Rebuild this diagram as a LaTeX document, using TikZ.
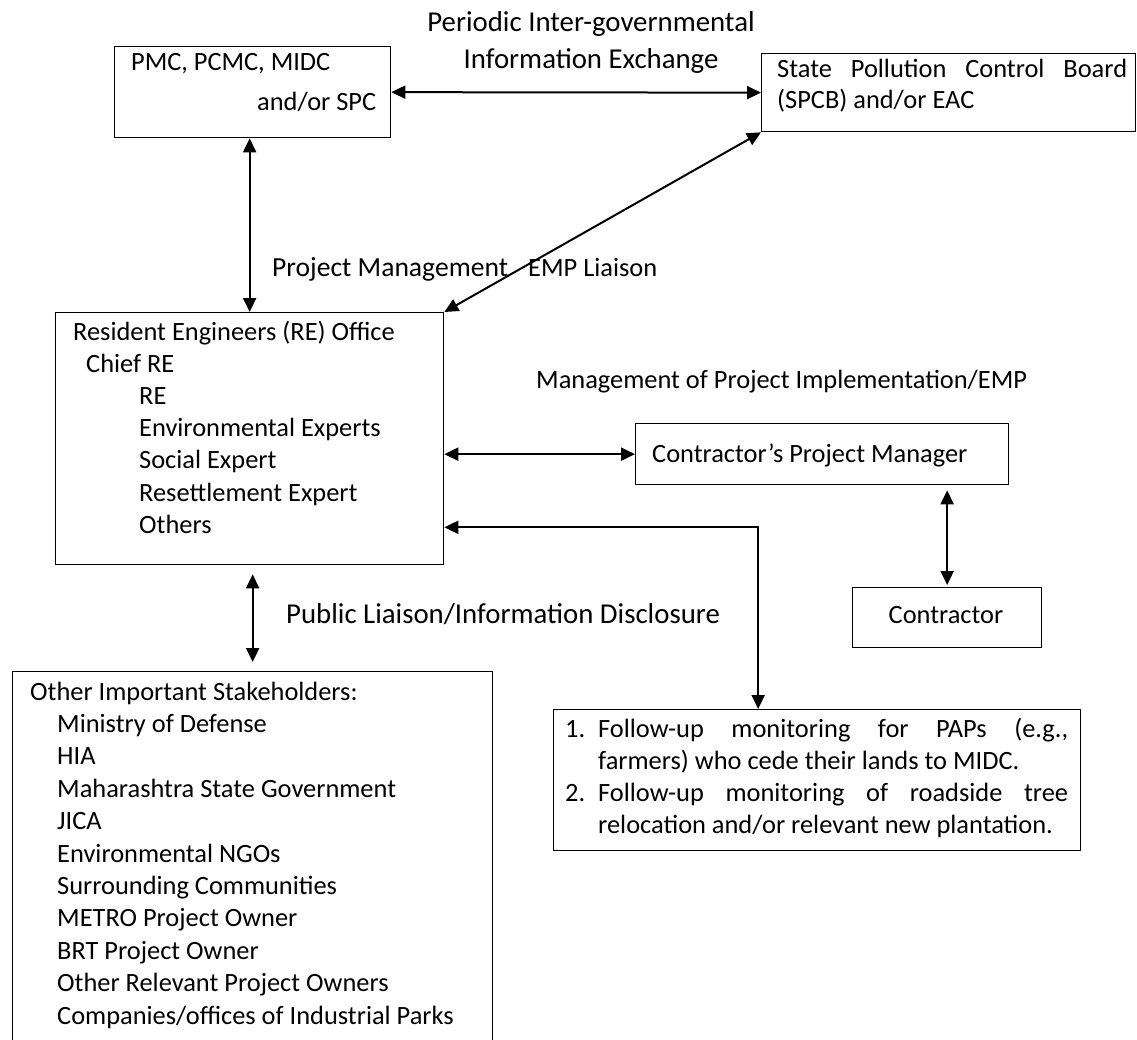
\documentclass[tikz,border=0pt]{standalone}
\usepackage{fontspec}
\setmainfont{Carlito}
\usetikzlibrary{arrows.meta}
\begin{document}
\begin{tikzpicture}[x=1pt,y=-1pt,
  every node/.style={font=\fontsize{26.4pt}{32.2pt}\selectfont},
  box/.style={draw, line width=1.3pt, inner sep=0pt, anchor=north west},
  link/.style={line width=2pt,
    {Triangle[length=14pt,width=13pt]}-{Triangle[length=14pt,width=13pt]}},
  txt/.style={inner sep=0pt, anchor=base west},
  lbl/.style={inner sep=0pt, anchor=base west},
  biglbl/.style={inner sep=0pt, font=\fontsize{28.8pt}{35pt}\selectfont}]
\useasboundingbox (0,0) rectangle (1137,1039);
\fill[white] (0,0) rectangle (1137,1039);

% boxes
\node[box, minimum width=276pt, minimum height=91pt]  (pmc)  at (114,46)  {};
\node[box, minimum width=374pt, minimum height=78pt]  (spcb) at (761,53)  {};
\node[box, minimum width=388pt, minimum height=252pt] (re)   at (55,312)  {};
\node[box, minimum width=373pt, minimum height=61pt]  (cpm)  at (635,423) {};
\node[box, minimum width=189pt, minimum height=60pt]  (con)  at (852,587) {};
\node[box, minimum width=480pt, minimum height=400pt] (sh)   at (12,671)  {};
\node[box, minimum width=527pt, minimum height=141pt] (mon)  at (553,709) {};

% box texts
\node[txt] (pmc-a) at (131,70)  {PMC, PCMC, MIDC};
\node[txt] (pmc-b) at (257,110) {and/or SPC};
\node[txt] (spcb-t) at (777,77) {\vtop{\baselineskip=31pt
  \hbox to 350pt{State\hfill Pollution\hfill Control\hfill Board}
  \hbox{(SPCB) and/or EAC}}};
\node[txt] (re-t) at (73,340) {\vtop{\baselineskip=32.2pt
  \hbox{Resident Engineers (RE) Office}
  \hbox{\kern13pt Chief RE}
  \hbox{\kern66pt RE}
  \hbox{\kern66pt Environmental Experts}
  \hbox{\kern66pt Social Expert}
  \hbox{\kern66pt Resettlement Expert}
  \hbox{\kern66pt Others}}};
\node[txt] (cpm-t) at (652,462) {Contractor’s Project Manager};
\node[inner sep=0pt, anchor=base] (con-t) at (946,623) {Contractor};
\node[txt] (sh-t) at (30,700) {\vtop{\baselineskip=32.4pt
  \hbox{Other Important Stakeholders:}
  \hbox{\kern27pt Ministry of Defense}
  \hbox{\kern27pt HIA}
  \hbox{\kern27pt Maharashtra State Government}
  \hbox{\kern27pt JICA}
  \hbox{\kern27pt Environmental NGOs}
  \hbox{\kern27pt Surrounding Communities}
  \hbox{\kern27pt METRO Project Owner}
  \hbox{\kern27pt BRT Project Owner}
  \hbox{\kern27pt Other Relevant Project Owners}
  \hbox{\kern27pt Companies/offices of Industrial Parks}}};
\node[txt] (mon-t) at (565,737) {\vtop{\baselineskip=32.2pt
  \hbox{\hbox to 33pt{1.\hfil}\hbox to 470pt{Follow-up\hfill monitoring\hfill for\hfill PAPs\hfill (e.g.,}}
  \hbox{\kern33pt farmers) who cede their lands to MIDC.}
  \hbox{\hbox to 33pt{2.\hfil}\hbox to 470pt{Follow-up\hfill monitoring\hfill of\hfill roadside\hfill tree}}
  \hbox{\kern33pt relocation and/or relevant new plantation.}}};

% connector labels
\node[biglbl, anchor=base] (l-per) at (591,31) {Periodic Inter-governmental};
\node[biglbl, anchor=base] (l-inf) at (591,68) {Information Exchange};
\node[biglbl, anchor=base west, font=\fontsize{27.6pt}{34pt}\selectfont] (l-pm) at (272,276) {Project Management};
\node[lbl] (l-emp)  at (528,276) {EMP Liaison};
\node[lbl] (l-mpi)  at (536,388) {Management of Project Implementation/EMP};
\node[biglbl, anchor=base west] (l-pub) at (286,623) {Public Liaison/Information Disclosure};

% connectors
\draw[link] (pmc.east) -- (spcb.west);
\draw[link] (pmc.south -| re.north) -- (re.north);
\draw[link] (spcb.south west) -- (re.north east);
\draw[link] (re.east |- cpm.west) -- (cpm.west);
\draw[link, shorten <=5pt, shorten >=2pt] (con.north |- cpm.south) -- (con.north);
\draw[link] ([yshift=38pt]re.south east) -| ([xshift=-59pt]mon.north);
\draw[link, shorten <=9pt, shorten >=9pt] (sh.north |- re.south) -- (sh.north);
\end{tikzpicture}
\end{document}
